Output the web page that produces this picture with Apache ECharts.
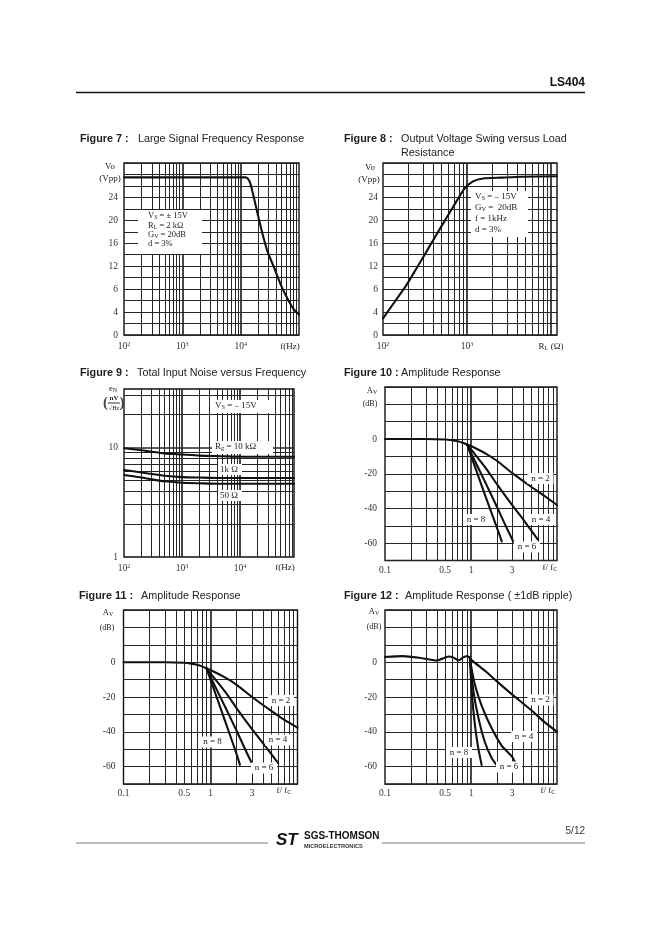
<!DOCTYPE html>
<html><head><meta charset="utf-8">
<script src="https://cdn.jsdelivr.net/npm/echarts@6.0.0/dist/echarts.min.js"></script>
<style>html,body{margin:0;padding:0;background:#fff}#c{width:662px;height:936px}</style>
</head><body><div id="c"></div>
<script>
// ---------- data ----------
// Figure 7 : Large Signal Frequency Response
const fig7Freq = [100, 1000, 10000, 12000, 13500, 14800, 16900, 19800, 23900, 29000, 38000, 49000, 63000, 81000, 100000];
const fig7Vo   = [27.5, 27.5, 27.5, 27.5, 27.2, 26.3, 23.9, 20.9, 17.5, 14.5, 11.6, 8.7, 6.4, 4.5, 3.6];
// Figure 8 : Output Voltage Swing versus Load Resistance
const fig8Load = [100, 138, 190, 250, 328, 432, 569, 748, 940, 1180, 1550, 2570, 4450, 11790];
const fig8Vo   = [2.9, 5.8, 8.7, 11.6, 14.5, 17.5, 20.4, 23.3, 25.6, 26.8, 27.3, 27.45, 27.6, 27.7];
// Figure 9 : Total Input Noise versus Frequency
const fig9Freq  = [100, 200, 300, 500, 1000, 2000, 5000, 10000, 85000];
const fig9Rg10k = [9.8, 9.4, 9.1, 8.8, 8.6, 8.4, 8.3, 8.2, 8.2];
const fig9Rg1k  = [6.2, 5.9, 5.7, 5.5, 5.35, 5.3, 5.25, 5.25, 5.25];
const fig9Rg50  = [5.6, 5.3, 5.1, 4.9, 4.75, 4.7, 4.65, 4.65, 4.65];
// Figure 10 : Amplitude Response
const fig10PassX = [0.1, 0.3, 0.5, 0.6, 0.7, 0.8, 0.9];
const fig10PassY = [0, 0, -0.3, -0.7, -1.3, -2.1, -3.1];
const fig10N2X = [0.9, 1, 1.5, 2, 3, 5, 7, 10];
const fig10N2Y = [-3.1, -4, -8.5, -12.5, -19.5, -27.5, -32.5, -38];
const fig10N4X = [0.9, 1, 1.5, 2, 3, 4, 6];
const fig10N4Y = [-3.1, -6, -17, -26, -38, -46, -58];
const fig10N6X = [0.9, 1, 1.5, 2, 2.5, 3.1];
const fig10N6Y = [-3.1, -8, -26, -39, -49.5, -59];
const fig10N8X = [0.9, 1, 1.5, 2, 2.28];
const fig10N8Y = [-3.1, -9.5, -34, -51, -59];
// Figure 11 : Amplitude Response
const fig11PassX = [0.1, 0.3, 0.5, 0.6, 0.7, 0.8, 0.9];
const fig11PassY = [0, 0, -0.3, -0.8, -1.5, -2.4, -3.5];
const fig11N2X = [0.9, 1, 1.5, 2, 3, 5, 7, 10];
const fig11N2Y = [-3.5, -4.5, -9, -13, -20, -28, -33, -37.6];
const fig11N4X = [0.9, 1, 1.5, 2, 3, 4, 6];
const fig11N4Y = [-3.5, -6.5, -17.5, -26.5, -38.5, -46.5, -58];
const fig11N6X = [0.9, 1, 1.5, 2, 2.5, 3.05];
const fig11N6Y = [-3.5, -8.5, -26.5, -39.5, -50, -59];
const fig11N8X = [0.9, 1, 1.5, 2, 2.18];
const fig11N8Y = [-3.5, -10, -35, -53, -59];
// Figure 12 : Amplitude Response (±1dB ripple)
const fig12RipX = [0.1, 0.16, 0.25, 0.4, 0.55, 0.63, 0.72, 0.8, 0.9, 0.97];
const fig12RipY = [3, 3.5, 2.6, 1, 3.3, 2.6, 1, 2.6, 3.6, 2.6];
const fig12N2X = [0.97, 1, 1.5, 2, 3, 5, 7, 10];
const fig12N2Y = [2.6, 1.5, -5.5, -11, -18.5, -27.5, -34, -40];
const fig12N4X = [0.97, 1.0, 1.11, 1.33, 1.66, 2.27, 2.97, 3.38];
const fig12N4Y = [2.6, -2, -13, -25, -36, -48, -54, -59];
const fig12N6X = [0.97, 1.07, 1.22, 1.45, 1.74, 1.98];
const fig12N6Y = [2.6, -17, -32, -46, -55, -59];
const fig12N8X = [0.97, 1.02, 1.11, 1.22, 1.33];
const fig12N8Y = [2.6, -17, -36, -50, -59];
// tick labels
const voTicks = [0, 4, 8, 12, 16, 20, 24];
const voTickText = ['0', '4', '6', '12', '16', '20', '24'];
const dBTicks = [0, -20, -40, -60];
const ratioTicks = [0.1, 0.5, 1, 3];
const noiseTicks = [1, 10];

// ---------- helpers ----------
const SERIF = 'Liberation Serif';
const SANS = 'Liberation Sans';
const zip = (a, b) => a.map((v, i) => [v, b[i]]);
function logLines(min, max) {
  const out = [];
  for (let e = Math.floor(Math.log10(min)) - 1; e <= Math.ceil(Math.log10(max)); e++) {
    for (let m = 1; m < 10; m++) {
      const v = m * Math.pow(10, e);
      if (v > min * 1.0001 && v < max * 0.9999) out.push({ v, major: m === 1 });
    }
  }
  return out;
}
const GRIDC = '#262626';
function gridHost(i, xmin, xmax, extraY) {
  const d = logLines(xmin, xmax).map(o => ({ xAxis: o.v, lineStyle: { width: o.major ? 1.7 : 1, color: GRIDC, type: 'solid' } }));
  (extraY || []).forEach(v => d.push({ yAxis: v, lineStyle: { width: v === 10 ? 1.7 : 1, color: GRIDC, type: 'solid' } }));
  return {
    type: 'line', xAxisIndex: i, yAxisIndex: i, data: [], z: 1, silent: true,
    markLine: { silent: true, z: 1, symbol: ['none', 'none'], label: { show: false }, animation: false,
      emphasis: { disabled: true }, data: d }
  };
}
function curve(i, x, y) {
  return {
    type: 'line', xAxisIndex: i, yAxisIndex: i, data: zip(x, y), showSymbol: false, symbol: 'none',
    smooth: 0.2, z: 10, silent: true, animation: false,
    lineStyle: { color: '#111', width: 2.1, cap: 'round', join: 'round' }
  };
}
const supRich = { s: { fontSize: 6, lineHeight: 6, verticalAlign: 'top', fontFamily: SERIF, color: '#333' } };
const powLabel = v => '10{s|' + Math.round(Math.log10(v)) + '}';
function xLog(i, min, max, ticks, fmt, margin) {
  return {
    type: 'log', gridIndex: i, min, max, logBase: 10,
    axisLine: { show: false }, axisTick: { show: false }, splitLine: { show: false }, minorSplitLine: { show: false },
    axisLabel: { customValues: ticks, formatter: fmt, fontFamily: SERIF, fontSize: 9.5, color: '#333',
      margin, lineHeight: 11, rich: supRich, showMinLabel: true, showMaxLabel: true, hideOverlap: false }
  };
}
function yVal(i, min, max, interval, ticks, fmt, margin, pad) {
  return {
    type: 'value', gridIndex: i, min, max, interval,
    axisLine: { show: false }, axisTick: { show: false },
    splitLine: { show: true, lineStyle: { color: GRIDC, width: 1 } },
    axisLabel: { customValues: ticks, formatter: fmt, fontFamily: SERIF, fontSize: 9.5, color: '#333', margin,
      padding: pad || 0, showMinLabel: true, showMaxLabel: true, hideOverlap: false }
  };
}
const voFmt = v => { const k = voTicks.indexOf(v); return k >= 0 ? voTickText[k] : ''; };
const dbFmt = v => String(v);
const numFmt = v => String(v);

// ---------- graphic ----------
const G = [];
function mkRich(fs) {
  return {
    s: { fontSize: fs * 0.7, lineHeight: fs * 0.65, padding: [fs * 0.42, 0, 0, 0], verticalAlign: 'top', fontFamily: SERIF, fill: '#222', color: '#222' },
    n: { fontSize: fs, lineHeight: fs + 1, fontFamily: SERIF, fill: '#222', color: '#222' }
  };
}
const subRich = mkRich(9);
const smallRich = mkRich(8.5);
function T(text, x, y, o) {
  o = o || {};
  G.push({ type: 'text', x, y, z: 20, silent: true, style: {
    text, font: o.font || ('9.5px ' + SERIF), fill: o.fill || '#222',
    textAlign: o.align || 'left', align: o.align || 'left', textVerticalAlign: 'middle', verticalAlign: 'middle',
    rich: o.rich
  }});
}
function R(x, y, w, h) { G.push({ type: 'rect', z: 15, silent: true, shape: { x, y, width: w, height: h }, style: { fill: '#fff' } }); }
function L(x1, y1, x2, y2, w, c) { G.push({ type: 'line', z: 20, silent: true, shape: { x1, y1, x2, y2 }, style: { stroke: c || '#222', lineWidth: w || 1 } }); }
function S(main, sub, rest) { return '{n|' + main + '}{s|' + sub + '}{n|' + rest + '}'; }

// header / footer
T('LS404', 585, 83, { font: 'bold 12px ' + SANS, align: 'right', fill: '#111' });
L(76, 92.5, 585, 92.5, 1.6, '#111');
L(76, 843, 268, 843, 0.8, '#555');
L(382, 843, 585, 843, 0.8, '#555');
T('ST', 276, 840, { font: 'italic bold 17px ' + SANS, fill: '#111' });
T('SGS-THOMSON', 304, 836, { font: 'bold 10px ' + SANS, fill: '#111' });
T('MICROELECTRONICS', 304, 846, { font: 'bold 5.6px ' + SANS, fill: '#333' });
T('5/12', 585, 831, { font: '10px ' + SANS, align: 'right', fill: '#333' });

// titles
const TF = '10.8px ' + SANS, TB = 'bold 10.8px ' + SANS;
T('Figure 7 :', 80, 139, { font: TB }); T('Large Signal Frequency Response', 138, 139, { font: TF });
T('Figure 8 :', 344, 139, { font: TB }); T('Output Voltage Swing versus Load', 401, 139, { font: TF });
T('Resistance', 401, 153, { font: TF });
T('Figure 9 :', 80, 373, { font: TB }); T('Total Input Noise versus Frequency', 137, 373, { font: TF });
T('Figure 10 :', 344, 373, { font: TB }); T('Amplitude Response', 401, 373, { font: TF });
T('Figure 11 :', 79, 596, { font: TB }); T('Amplitude Response', 141, 596, { font: TF });
T('Figure 12 :', 344, 596, { font: TB }); T('Amplitude Response ( \u00b11dB ripple)', 405, 596, { font: TF });

// axis titles / units
T('Vo', 110, 167, { align: 'center', font: '9px ' + SERIF });
T('(Vpp)', 110, 179, { align: 'center', font: '9px ' + SERIF });
T('f(Hz)', 290, 347, { align: 'center', font: '9px ' + SERIF });
T('Vo', 370, 168, { align: 'center', font: '9px ' + SERIF });
T('(Vpp)', 369, 180, { align: 'center', font: '9px ' + SERIF });
T(S('R', 'L', ' (\u03a9)'), 551, 347, { align: 'center', rich: subRich });
// fig 9 y title
T('{n|e}{s|N}', 113, 389, { align: 'center', rich: smallRich });
T('nV', 114, 398, { align: 'center', font: 'bold 7px ' + SERIF });
L(108, 403, 120, 403, 1, '#333');
T('\u221aHz', 114, 408, { align: 'center', font: '6px ' + SERIF });
T('(', 105.5, 403, { align: 'center', font: 'bold 15px ' + SERIF, fill: '#444' });
T(')', 122, 403, { align: 'center', font: 'bold 15px ' + SERIF, fill: '#444' });
T('f(Hz)', 285, 568, { align: 'center', font: '9px ' + SERIF });
// fig 10-12
T(S('A', 'V', ''), 372, 391, { align: 'center', rich: smallRich });
T('(dB)', 370, 404, { align: 'center', font: '8px ' + SERIF });
T(S('f/ f', 'C', ''), 550, 568, { align: 'center', rich: subRich });
T(S('A', 'V', ''), 108, 613, { align: 'center', rich: smallRich });
T('(dB)', 107, 628, { align: 'center', font: '8px ' + SERIF });
T(S('f/ f', 'C', ''), 284, 791, { align: 'center', rich: subRich });
T(S('A', 'V', ''), 374, 612, { align: 'center', rich: smallRich });
T('(dB)', 374, 627, { align: 'center', font: '8px ' + SERIF });
T(S('f/ f', 'C', ''), 548, 791, { align: 'center', rich: subRich });

// annotation boxes
R(138, 210, 64, 44);
T(S('V', 'S', ' = \u00b1 15V'), 148, 216, { rich: smallRich });
T(S('R', 'L', ' = 2 k\u03a9'), 148, 225.5, { rich: smallRich });
T(S('G', 'V', ' = 20dB'), 148, 234.5, { rich: smallRich });
T('{n|d = 3%}', 148, 244, { rich: smallRich });
R(471, 191, 57, 46);
T(S('V', 'S', ' = \u2013 15V'), 475, 197, { rich: subRich });
T(S('G', 'V', ' =  20dB'), 475, 208, { rich: subRich });
T('{n|f = 1kHz}', 475, 219, { rich: subRich });
T('{n|d = 3%}', 475, 230, { rich: subRich });
R(212, 400, 61, 13);
T(S('V', 'S', ' = \u2013 15V'), 215, 406, { rich: subRich });
R(212, 441, 61, 13);
T(S('R', 'g', ' = 10 k\u03a9'), 215, 447, { rich: subRich });
R(218, 464, 24, 11);
T('{n|1k \u03a9}', 220, 469.5, { rich: subRich });
R(218, 490, 24, 11);
T('{n|50 \u03a9}', 220, 495.5, { rich: subRich });
function NB(t, cx, cy) { R(cx - 13, cy - 5.5, 26, 11); T('{n|' + t + '}', cx, cy, { align: 'center', rich: subRich }); }
NB('n = 2', 540.5, 478.5); NB('n = 4', 541, 519.5); NB('n = 8', 476, 519.5); NB('n = 6', 527, 547);
NB('n = 2', 281, 700.5); NB('n = 4', 278, 740); NB('n = 8', 212.5, 742); NB('n = 6', 264, 768);
NB('n = 2', 540.5, 700); NB('n = 4', 524, 736.5); NB('n = 8', 459, 752.5); NB('n = 6', 509, 767);

// ---------- option ----------
const border = { show: true, borderColor: '#111', borderWidth: 1.4, backgroundColor: 'transparent' };
const option = {
  backgroundColor: '#fff',
  animation: false,
  grid: [
    Object.assign({ left: 124, top: 163, width: 175, height: 172 }, border),
    Object.assign({ left: 383, top: 163, width: 174, height: 172 }, border),
    Object.assign({ left: 124, top: 389, width: 170, height: 168 }, border),
    Object.assign({ left: 385, top: 387, width: 172, height: 173.5 }, border),
    Object.assign({ left: 123.5, top: 610, width: 174, height: 174 }, border),
    Object.assign({ left: 385, top: 610, width: 172, height: 174 }, border)
  ],
  xAxis: [
    xLog(0, 100, 100000, [100, 1000, 10000], powLabel, 6),
    xLog(1, 100, 11790, [100, 1000], powLabel, 6),
    xLog(2, 100, 85000, [100, 1000, 10000], powLabel, 6),
    xLog(3, 0.1, 10, ratioTicks, numFmt, 4),
    xLog(4, 0.1, 10, ratioTicks, numFmt, 4),
    xLog(5, 0.1, 10, ratioTicks, numFmt, 4)
  ],
  yAxis: [
    yVal(0, 0, 30, 2, voTicks, voFmt, 6, [0, 0, 5, 0]),
    yVal(1, 0, 30, 2, voTicks, voFmt, 5, [0, 0, 5, 0]),
    {
      type: 'log', gridIndex: 2, min: 1, max: 34, logBase: 10,
      axisLine: { show: false }, axisTick: { show: false }, splitLine: { show: false },
      axisLabel: { customValues: noiseTicks, formatter: numFmt, fontFamily: SERIF, fontSize: 9.5, color: '#333', margin: 6,
        showMinLabel: true, showMaxLabel: true, hideOverlap: false }
    },
    yVal(3, -70, 30, 10, dBTicks, dbFmt, 8),
    yVal(4, -70, 30, 10, dBTicks, dbFmt, 8),
    yVal(5, -70, 30, 10, dBTicks, dbFmt, 8)
  ],
  series: [
    gridHost(0, 100, 100000), curve(0, fig7Freq, fig7Vo),
    gridHost(1, 100, 11790), curve(1, fig8Load, fig8Vo),
    gridHost(2, 100, 85000, [2, 3, 4, 5, 6, 7, 8, 9, 10, 20, 30]),
    curve(2, fig9Freq, fig9Rg10k), curve(2, fig9Freq, fig9Rg1k), curve(2, fig9Freq, fig9Rg50),
    gridHost(3, 0.1, 10), curve(3, fig10PassX, fig10PassY),
    curve(3, fig10N2X, fig10N2Y), curve(3, fig10N4X, fig10N4Y), curve(3, fig10N6X, fig10N6Y), curve(3, fig10N8X, fig10N8Y),
    gridHost(4, 0.1, 10), curve(4, fig11PassX, fig11PassY),
    curve(4, fig11N2X, fig11N2Y), curve(4, fig11N4X, fig11N4Y), curve(4, fig11N6X, fig11N6Y), curve(4, fig11N8X, fig11N8Y),
    gridHost(5, 0.1, 10), curve(5, fig12RipX, fig12RipY),
    curve(5, fig12N2X, fig12N2Y), curve(5, fig12N4X, fig12N4Y), curve(5, fig12N6X, fig12N6Y), curve(5, fig12N8X, fig12N8Y)
  ],
  graphic: { elements: G }
};
const chart = echarts.init(document.getElementById('c'), null, { renderer: 'canvas' });
chart.setOption(option);
</script>
</body></html>
